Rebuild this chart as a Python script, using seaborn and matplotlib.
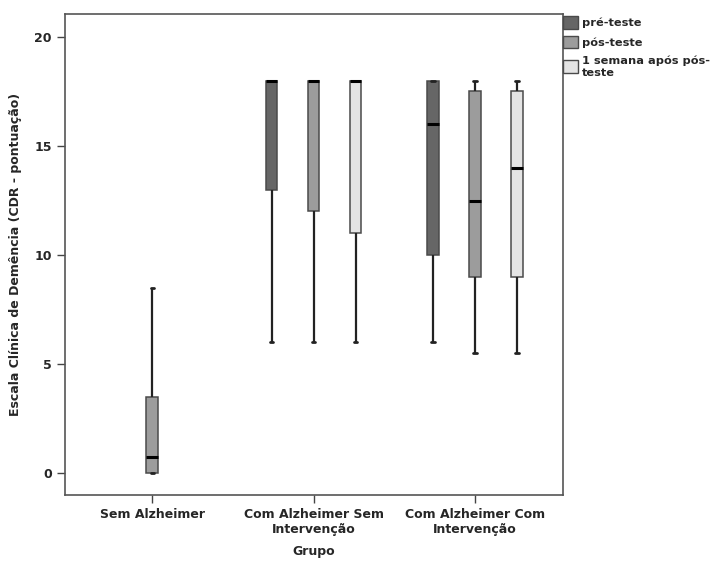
import numpy as np
import pandas as pd
import matplotlib
matplotlib.use("Agg")
import matplotlib.pyplot as plt
import seaborn as sns

groups = ["Sem Alzheimer", "Com Alzheimer Sem\nIntervenção", "Com Alzheimer Com\nIntervenção"]
moments = ["pré-teste", "pós-teste", "1 semana após pós-\nteste"]
colors = ["#666666", "#9c9c9c", "#e4e4e4"]

# five-number summaries (min, Q1, median, Q3, max) per group and moment
sem_alz_pos = [0.0, 0.0, 0.75, 3.5, 8.5]
sem_int_pre = [6.0, 13.0, 18.0, 18.0, 18.0]
sem_int_pos = [6.0, 12.0, 18.0, 18.0, 18.0]
sem_int_sem = [6.0, 11.0, 18.0, 18.0, 18.0]
com_int_pre = [6.0, 10.0, 16.0, 18.0, 18.0]
com_int_pos = [5.5, 9.0, 12.5, 17.5, 18.0]
com_int_sem = [5.5, 9.0, 14.0, 17.5, 18.0]

series = [
    (groups[0], moments[1], sem_alz_pos),
    (groups[1], moments[0], sem_int_pre),
    (groups[1], moments[1], sem_int_pos),
    (groups[1], moments[2], sem_int_sem),
    (groups[2], moments[0], com_int_pre),
    (groups[2], moments[1], com_int_pos),
    (groups[2], moments[2], com_int_sem),
]
rows = [(g, m, v) for g, m, vals in series for v in vals]
df = pd.DataFrame(rows, columns=["Grupo", "Momento", "CDR"])

sns.set_theme(style="white")
plt.rcParams["font.family"] = ["DejaVu Sans"]
plt.rcParams["font.weight"] = "bold"

fig = plt.figure(figsize=(7.18, 5.63), dpi=100)
ax = fig.add_axes([0.0905, 0.1208, 0.6935, 0.8543])

edge = "#4a4a4a"
sns.boxplot(
    data=df, x="Grupo", y="CDR", hue="Momento",
    order=groups, hue_order=moments, palette=colors,
    width=0.78, gap=0.72, whis=np.inf, dodge=True,
    linecolor=edge, linewidth=1.1, saturation=1,
    medianprops=dict(color="black", linewidth=2.2),
    whiskerprops=dict(color="#222222", linewidth=1.6),
    capprops=dict(color="#222222", linewidth=2.0),
    ax=ax, legend=True,
)

# narrow the whisker caps to about half the box width
for line in ax.lines:
    xd = np.asarray(line.get_xdata(), dtype=float)
    yd = np.asarray(line.get_ydata(), dtype=float)
    if (len(xd) == 2 and yd[0] == yd[1] and xd[1] != xd[0]
            and line.get_color() in ("#222222",)):
        c = xd.mean()
        half = (xd[1] - xd[0]) / 2 * 0.55
        line.set_xdata([c - half, c + half])

ax.set_xlim(-0.54, 2.545)
ax.set_ylim(-1.0, 21.05)
ax.set_yticks([0, 5, 10, 15, 20])
ax.set_ylabel("Escala Clínica de Demência (CDR - pontuação)", fontsize=9, fontweight="bold", labelpad=9)
ax.set_xlabel("Grupo", fontsize=9, fontweight="bold", labelpad=6)
ax.tick_params(axis="both", which="both", length=6, width=1, color="#444444",
               labelsize=9, direction="out", bottom=True, left=True)
for lab in ax.get_xticklabels() + ax.get_yticklabels():
    lab.set_fontweight("bold")
for sp in ax.spines.values():
    sp.set_color("#555555")
    sp.set_linewidth(1.2)

leg = ax.legend(loc="upper left", bbox_to_anchor=(1.0, 0.996), frameon=False,
                borderaxespad=0, borderpad=0.0, handlelength=1.3, handleheight=1.35,
                handletextpad=0.4, labelspacing=0.6, fontsize=8.2, title=None)
for t in leg.get_texts():
    t.set_fontweight("bold")
    t.set_linespacing(1.25)
for h in leg.legend_handles:
    h.set_edgecolor(edge)
    h.set_linewidth(1.0)

fig.savefig("out.png", dpi=100)
